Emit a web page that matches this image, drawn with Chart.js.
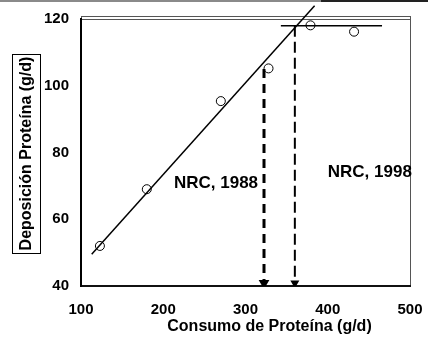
<!DOCTYPE html>
<html lang="es">
<head>
<meta charset="UTF-8">
<title>Deposición de proteína</title>
<script src="https://cdn.jsdelivr.net/npm/chart.js"></script>
<style>
  html, body { margin: 0; padding: 0; background: #fff; }
  #wrap { width: 428px; height: 347px; position: relative; }
</style>
</head>
<body>
<div id="wrap"><canvas id="c" width="428" height="347"></canvas></div>
<script>
// datos observados
const obsX = [123, 180, 270, 328, 379, 432];
const obsY = [52, 69, 95.4, 105.2, 118.1, 116.2];

// recta de regresion y meseta
const fitX = [113, 384];
const fitY = [49.5, 124];
const plateauX = [343, 466];
const plateauY = [118, 118];

// requerimientos NRC (linea discontinua hasta el eje)
const nrc88X = 322.5, nrc88Top = 105;
const nrc98X = 360, nrc98Top = 118;
const axisMin = 40;

const xTicks = [100, 200, 300, 400, 500];
const yTicks = [40, 60, 80, 100, 120];

const notes = [
  { text: 'NRC, 1988', x: 213, y: 70.8 },
  { text: 'NRC, 1998', x: 400, y: 74.1 }
];

const toPts = (xs, ys) => xs.map((x, i) => ({ x: x, y: ys[i] }));
const FONT = '"Liberation Sans", Arial, sans-serif';

// marco, titulos y textos
const decor = {
  id: 'decor',
  beforeDraw(chart) {
    const ctx = chart.ctx, a = chart.chartArea;
    ctx.save();
    // franja superior
    ctx.fillStyle = '#8a8a8a';
    ctx.fillRect(0, 0, 321, 2);
    ctx.fillStyle = '#222';
    ctx.fillRect(321, 0, 107, 2);
    // borde del area de trazado
    ctx.strokeStyle = '#555';
    ctx.lineWidth = 1;
    ctx.strokeRect(a.left + 0.5, a.top - 2.5, a.right - a.left, a.bottom - a.top + 2.5);
    ctx.beginPath();
    ctx.moveTo(a.left, a.top + 0.5);
    ctx.lineTo(a.right, a.top + 0.5);
    ctx.stroke();
    ctx.restore();
  },
  afterDraw(chart) {
    const ctx = chart.ctx;
    const xs = chart.scales.x, ys = chart.scales.y;
    ctx.save();
    ctx.fillStyle = '#000';
    // anotaciones
    ctx.font = 'bold 17px ' + FONT;
    ctx.textAlign = 'left';
    ctx.textBaseline = 'middle';
    notes.forEach(n => ctx.fillText(n.text, xs.getPixelForValue(n.x), ys.getPixelForValue(n.y)));
    // titulo eje x
    ctx.font = 'bold 16px ' + FONT;
    ctx.textAlign = 'center';
    ctx.textBaseline = 'alphabetic';
    ctx.fillText('Consumo de Proteína (g/d)', 269.5, 331);
    // titulo eje y con recuadro
    ctx.strokeStyle = '#000';
    ctx.lineWidth = 1;
    ctx.strokeRect(12.5, 54.5, 28, 199);
    ctx.translate(27, 153.5);
    ctx.rotate(-Math.PI / 2);
    ctx.textBaseline = 'middle';
    ctx.fillText('Deposición Proteína (g/d)', 0, 0);
    ctx.restore();
  }
};

new Chart(document.getElementById('c'), {
  type: 'scatter',
  data: {
    datasets: [
      {
        label: 'fit',
        data: toPts(fitX, fitY),
        showLine: true,
        borderColor: '#000',
        borderWidth: 1.5,
        pointRadius: 0,
        clip: false
      },
      {
        label: 'plateau',
        data: toPts(plateauX, plateauY),
        showLine: true,
        borderColor: '#000',
        borderWidth: 1.5,
        pointRadius: 0
      },
      {
        label: 'NRC 1988',
        data: [{ x: nrc88X, y: nrc88Top }, { x: nrc88X, y: axisMin + 0.9 }],
        showLine: true,
        borderColor: '#000',
        backgroundColor: '#000',
        borderWidth: 3,
        borderDash: [9, 6],
        pointRadius: [0, 3.2],
        borderCapStyle: 'butt',
        pointStyle: 'triangle',
        rotation: 180
      },
      {
        label: 'NRC 1998',
        data: [{ x: nrc98X, y: nrc98Top }, { x: nrc98X, y: axisMin + 0.9 }],
        showLine: true,
        borderColor: '#000',
        backgroundColor: '#000',
        borderWidth: 2,
        borderDash: [11, 5],
        pointRadius: [0, 3.2],
        pointStyle: 'triangle',
        rotation: 180
      },
      {
        label: 'obs',
        data: toPts(obsX, obsY),
        showLine: false,
        pointStyle: 'circle',
        pointRadius: 4.5,
        borderColor: '#000',
        borderWidth: 1,
        backgroundColor: 'rgba(0,0,0,0)'
      }
    ]
  },
  options: {
    responsive: false,
    animation: false,
    events: [],
    layout: { padding: { left: 0, right: 18, top: 19, bottom: 0 } },
    plugins: { legend: { display: false }, tooltip: { enabled: false } },
    scales: {
      x: {
        type: 'linear',
        min: 100,
        max: 500,
        // alto fijo y sin relleno extra por las etiquetas de los extremos
        afterFit(s) { s.height = 61; s.paddingLeft = 0; s.paddingRight = 0; },
        afterBuildTicks(s) { s.ticks = xTicks.map(v => ({ value: v })); },
        grid: { display: false, drawTicks: true, tickLength: 4, tickColor: '#000' },
        border: { color: '#111', width: 2 },
        ticks: { color: '#000', padding: 11, font: { family: FONT, size: 15, weight: 'bold' } }
      },
      y: {
        type: 'linear',
        min: 40,
        max: 120,
        afterFit(s) { s.width = 81; },
        afterBuildTicks(s) { s.ticks = yTicks.map(v => ({ value: v })); },
        grid: { display: false, drawTicks: true, tickLength: 5, tickColor: '#000' },
        border: { color: '#000', width: 2 },
        ticks: { color: '#000', padding: 7, font: { family: FONT, size: 15, weight: 'bold' } }
      }
    }
  },
  plugins: [decor]
});
</script>
</body>
</html>
